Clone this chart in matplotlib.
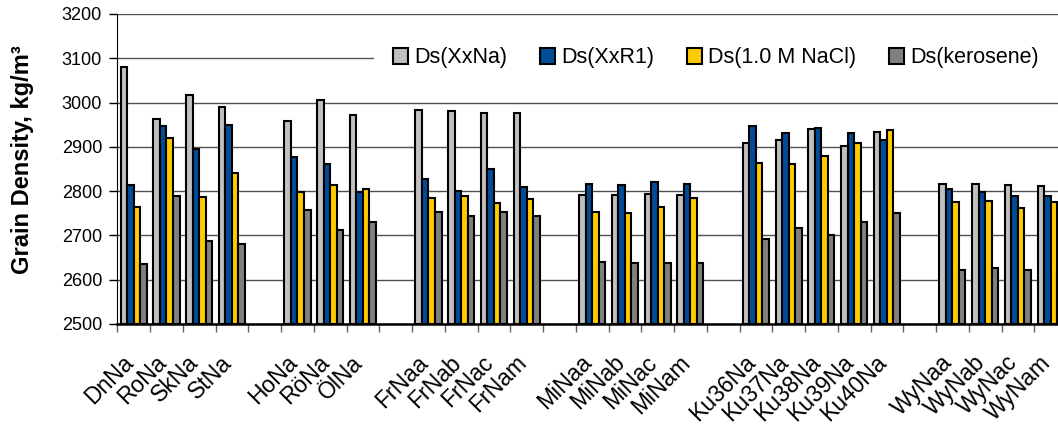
import matplotlib
matplotlib.use("Agg")
import matplotlib.pyplot as plt
import matplotlib.transforms as mtransforms
from matplotlib.patches import Patch
import numpy as np

plt.rcParams['font.family'] = ['Liberation Sans', 'DejaVu Sans']

categories = ["DnNa", "RoNa", "SkNa", "StNa", "",
              "HoNa", "RöNa", "ÖlNa", "",
              "FrNaa", "FrNab", "FrNac", "FrNam", "",
              "MiNaa", "MiNab", "MiNac", "MiNam", "",
              "Ku36Na", "Ku37Na", "Ku38Na", "Ku39Na", "Ku40Na", "",
              "WyNaa", "WyNab", "WyNac", "WyNam"]

ds_xxna = [3081, 2963, 3017, 2991, np.nan,
           2958, 3005, 2972, np.nan,
           2984, 2982, 2977, 2976, np.nan,
           2791, 2792, 2793, 2792, np.nan,
           2908, 2916, 2941, 2902, 2933, np.nan,
           2816, 2816, 2815, 2812]
ds_xxr1 = [2814, 2946, 2895, 2949, np.nan,
           2876, 2861, 2797, np.nan,
           2828, 2800, 2851, 2809, np.nan,
           2817, 2814, 2820, 2816, np.nan,
           2948, 2931, 2942, 2931, 2916, np.nan,
           2805, 2799, 2788, 2789]
ds_nacl = [2764, 2920, 2786, 2841, np.nan,
           2797, 2814, 2805, np.nan,
           2785, 2789, 2773, 2782, np.nan,
           2752, 2750, 2764, 2784, np.nan,
           2863, 2861, 2880, 2908, 2937, np.nan,
           2775, 2778, 2761, 2776]
ds_kero = [2635, 2788, 2688, 2680, np.nan,
           2758, 2712, 2731, np.nan,
           2752, 2744, 2752, 2744, np.nan,
           2639, 2637, 2637, 2637, np.nan,
           2691, 2716, 2701, 2731, 2750, np.nan,
           2621, 2626, 2621, 2620]

series_names = ["Ds(XxNa)", "Ds(XxR1)", "Ds(1.0 M NaCl)", "Ds(kerosene)"]
series = [ds_xxna, ds_xxr1, ds_nacl, ds_kero]
colors = ["#C0C0C0", "#004C99", "#FFCC00", "#808080"]

W, H = 1058, 428
fig = plt.figure(figsize=(W / 100, H / 100), dpi=100)
left, right, top, bottom = 117.3, 1067.0, 14.0, 324.0
ax = fig.add_axes([left / W, 1 - bottom / H, (right - left) / W, (bottom - top) / H])

n = len(categories)
x = np.arange(n)
bw = 0.2
for k, (vals, c) in enumerate(zip(series, colors)):
    v = np.array(vals, dtype=float)
    ax.bar(x + (k - 1.5) * bw, v - 2500, bottom=2500, width=bw, color=c,
           edgecolor="black", linewidth=1.5, zorder=3)

ax.set_ylim(2500, 3200)
ax.set_xlim(-0.5, n - 0.5)
ax.set_yticks(np.arange(2500, 3201, 100))
ax.yaxis.grid(True, color="#505050", linewidth=1.0, zorder=0)
ax.set_axisbelow(True)

ax.set_xticks(np.arange(-0.5, n, 1.0))
ax.set_xticklabels([])
ax.tick_params(axis="x", which="major", length=6, width=1, color="#606060", direction="out")
ax.tick_params(axis="y", length=6, width=1, labelsize=13, direction="out", pad=5)

# category labels, rotated 45 degrees
base = mtransforms.blended_transform_factory(ax.transData, ax.transAxes)
off = mtransforms.ScaledTranslation(-12 / 100, -27 / 100, fig.dpi_scale_trans)
for xi, lab in zip(x, categories):
    if lab:
        ax.text(xi, 0, lab, transform=base + off, rotation=45, ha="right", va="top",
                rotation_mode="anchor", fontsize=16.5, clip_on=False)

for s in ["top", "right"]:
    ax.spines[s].set_visible(False)
ax.spines["left"].set_color("black")
ax.spines["bottom"].set_linewidth(1.8)

fig.text(22.5 / W, 1 - 160 / H, "Grain Density, kg/m³", rotation=90,
         ha="center", va="center", fontsize=17, fontweight="bold")

handles = [Patch(facecolor=c, edgecolor="black", linewidth=1.5) for c in colors]
leg = fig.legend(handles, series_names, loc="center",
                 bbox_to_anchor=(716 / W, 1 - 58 / H), ncol=4, fontsize=15.5,
                 frameon=True, handlelength=0.7, handleheight=0.7,
                 handletextpad=0.3, columnspacing=1.5, borderpad=0.9)
leg.get_frame().set_facecolor("white")
leg.get_frame().set_edgecolor("none")
leg.get_frame().set_alpha(1.0)

fig.savefig("out.png", dpi=100)
